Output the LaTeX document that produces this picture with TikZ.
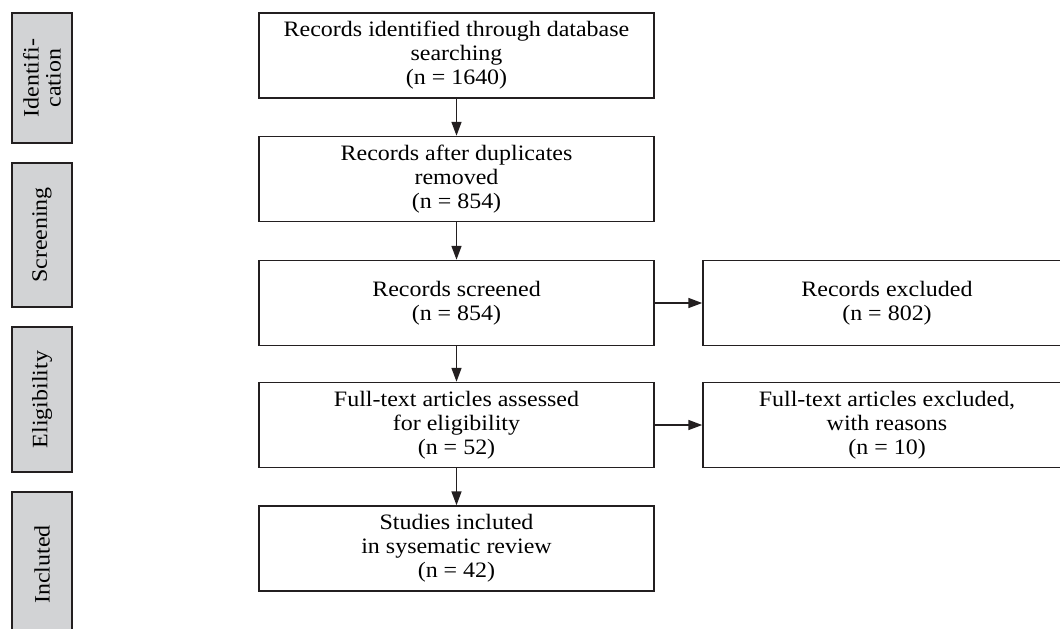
\documentclass[tikz,border=0pt]{standalone}
\usepackage{fontspec}
\setmainfont{Liberation Serif}[FakeStretch=1.09]
\usetikzlibrary{arrows.meta}
\definecolor{phasegray}{RGB}{210,211,213}
\definecolor{linegray}{RGB}{35,31,32}
\begin{document}
\begin{tikzpicture}[x=1pt,y=-1pt,
  box/.style={draw=linegray, line width=1.5pt, fill=white, align=center,
    minimum width=395pt, minimum height=85pt, inner sep=0pt,
    font=\fontsize{22}{24}\selectfont},
  sidebox/.style={box, minimum width=368pt},
  phase/.style={draw=linegray, line width=1.5pt, fill=phasegray, align=center,
    inner sep=0pt, rotate=90,
    font=\fontsize{22}{22}\selectfont},
  arr/.style={-{Triangle[length=14pt,width=10pt]}, line width=1.6pt, draw=linegray}]
\useasboundingbox (0,0) rectangle (1060,629);
\clip (0,0) rectangle (1060,629);
% phase labels
\node[phase, minimum height=60pt, minimum width=130pt] (pid) at (42,78) {Identifi-\\cation};
\node[phase, minimum height=60pt, minimum width=144pt] (psc) at (42,235) {Screening};
\node[phase, minimum height=60pt, minimum width=145pt] (pel) at (42,399.5) {Eligibility};
\node[phase, minimum height=60pt, minimum width=145pt] (pin) at (42,564.5) {Incluted};
% main boxes
\node[box] (b1) at (456.5,55.5) {Records identified through database\\searching\\(n = 1640)};
\node[box] (b2) at (456.5,179) {Records after duplicates\\removed\\(n = 854)};
\node[box] (b3) at (456.5,303) {Records screened\\(n = 854)};
\node[box] (b4) at (456.5,425) {Full-text articles assessed\\for eligibility\\(n = 52)};
\node[box] (b5) at (456.5,548.5) {Studies incluted\\in sysematic review\\(n = 42)};
% side boxes
\node[sidebox] (e1) at (887,303) {Records excluded\\(n = 802)};
\node[sidebox] (e2) at (887,425) {Full-text articles excluded,\\with reasons\\(n = 10)};
% arrows
\draw[arr] (b1) -- (b2);
\draw[arr] (b2) -- (b3);
\draw[arr] (b3) -- (b4);
\draw[arr] (b4) -- (b5);
\draw[arr] (b3) -- (e1);
\draw[arr] (b4) -- (e2);
\end{tikzpicture}
\end{document}
